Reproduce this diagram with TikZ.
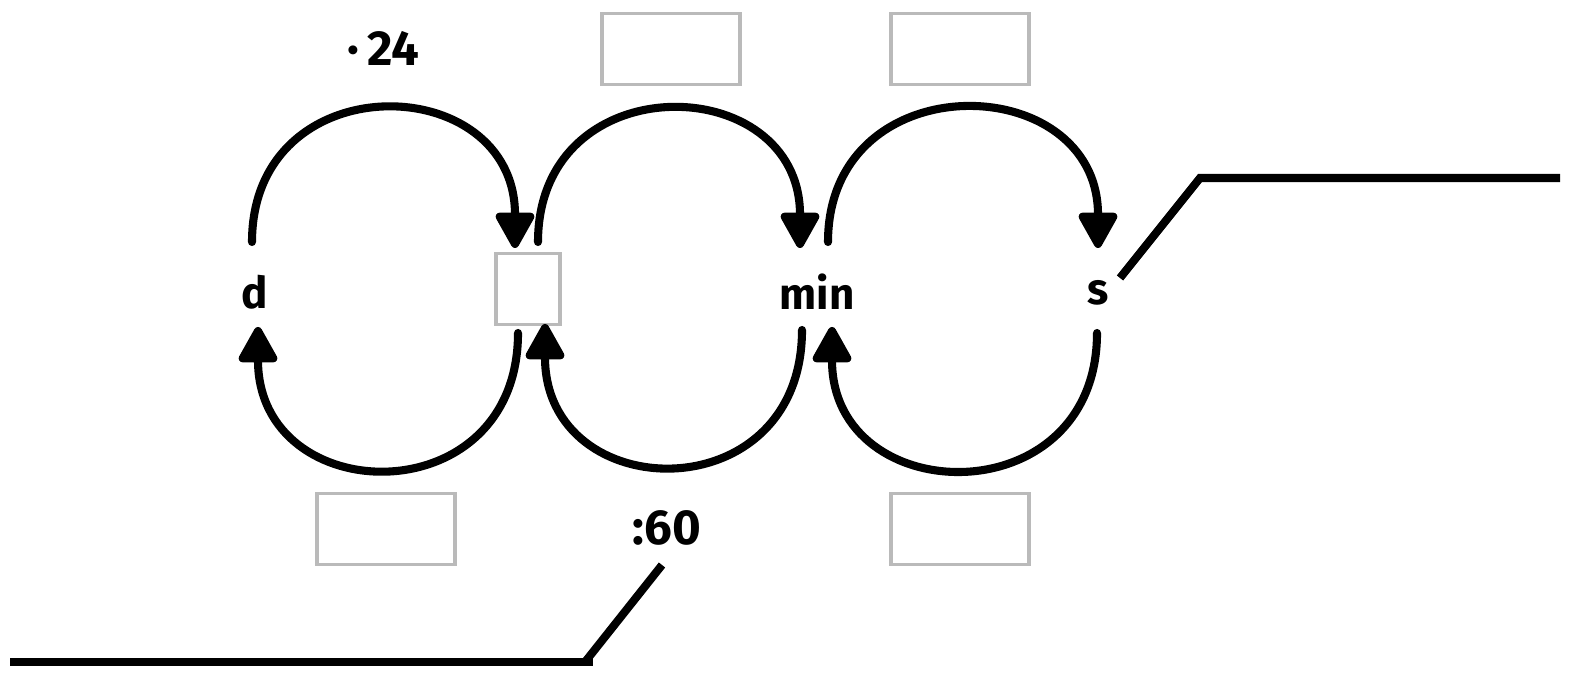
\documentclass[tikz,border=0pt]{standalone}
\usepackage{fontspec}
\setmainfont{Fira Sans}
\usetikzlibrary{arrows.meta}
\begin{document}
\begin{tikzpicture}[x=0.2mm,y=0.2mm,>={Triangle[round,length=8mm,width=8.4mm]}]
	\tikzstyle{Unit} = [font=\fontsize{25}{28}\selectfont\bfseries,inner sep=0pt]
	\tikzstyle{Blank} = [draw=black!27,line width=2.2pt,minimum width=27.6mm,minimum height=14.2mm,inner sep=0pt]
	\tikzstyle{Loop} = [line width=4.6pt,line cap=round,->]
	\tikzstyle{Answer} = [line width=4.6pt]
	\useasboundingbox (0,0) rectangle (1593,691);
	% units along the row
	\node[Unit] (d) at (255,399) {d};
	\node[Blank,minimum width=12.8mm] (sq) at (528,402) {};
	\node[Unit] (min) at (817,399) {min};
	\node[Unit] (s) at (1098,398) {s};
	% boxes for the factors
	\node[Blank] (top2) at (671,642) {};
	\node[Blank] (top3) at (960,642) {};
	\node[Blank] (bot1) at (386,162) {};
	\node[Blank] (bot3) at (960,162) {};
	\node[Unit,font=\fontsize{28}{30}\selectfont\bfseries] (mul) at (383,643) {·\,24};
	\node[Unit,font=\fontsize{28}{30}\selectfont\bfseries] (div) at (667,163) {:60};
	% arcs above
	\draw[Loop] ([shift={(-3,50)}]d.center) to[out=90,in=90,looseness=1.74] ([shift={(-13,41)}]sq.center);
	\draw[Loop] ([shift={(10,47)}]sq.center) to[out=90,in=90,looseness=1.74] ([shift={(-17,44)}]min.center);
	\draw[Loop] ([shift={(11,50)}]min.center) to[out=90,in=90,looseness=1.7] ([shift={(0,45)}]s.center);
	% arcs below
	\draw[Loop] ([shift={(-10,-44)}]sq.center) to[out=-90,in=-90,looseness=1.8] ([shift={(3,-35)}]d.center);
	\draw[Loop] ([shift={(-15,-38)}]min.center) to[out=-90,in=-90,looseness=1.82] ([shift={(17,-35)}]sq.center);
	\draw[Loop] ([shift={(-1,-40)}]s.center) to[out=-90,in=-90,looseness=1.77] ([shift={(15,-35)}]min.center);
	% answer lines
	\draw[Answer] (1120,413)--(1200,513)--(1560,513);
	\draw[Answer] (662,126)--(585,29);
	\draw[Answer] (10,29)--(593,29);
\end{tikzpicture}
\end{document}
